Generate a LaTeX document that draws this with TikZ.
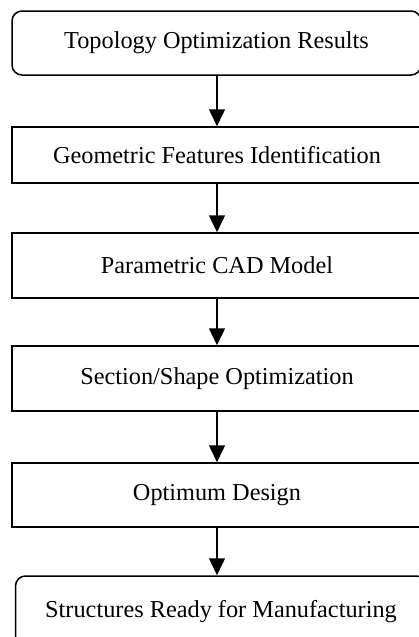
\documentclass[tikz,border=0pt]{standalone}
\usepackage{fontspec}
\setmainfont{Liberation Serif}
\usetikzlibrary{arrows.meta}
\begin{document}
\begin{tikzpicture}[x=1pt,y=-1pt,
  box/.style={draw, line width=1.5pt, minimum width=410pt, minimum height=64pt, inner sep=0pt, font=\fontsize{24.3}{28}\selectfont, anchor=center},
  rbox/.style={box, rounded corners=10pt},
  flow/.style={-{Triangle[width=16pt,length=17pt]}, line width=1.5pt}]
\useasboundingbox (0,0) rectangle (419,637);
\clip (0,0) rectangle (419,637);
\node[rbox, minimum width=409pt] (n1) at (216.5,43) {Topology Optimization Results};
\node[box, minimum height=56pt] (n2) at (217,155) {Geometric Features Identification};
\node[box, minimum height=65pt] (n3) at (217,265.5) {Parametric CAD Model};
\node[box, minimum height=65pt] (n4) at (217,378.5) {Section/Shape Optimization};
\node[box] (n5) at (217,495) {Optimum Design};
\node[rbox, minimum width=411pt, minimum height=72pt] (n6) at (221,612) {Structures Ready for Manufacturing};
\draw[flow] (n2.north |- n1.south) -- (n2.north);
\draw[flow] (n2.south) -- (n3.north);
\draw[flow] (n3.south) -- (n4.north);
\draw[flow] (n4.south) -- (n5.north);
\draw[flow] (n5.south) -- (n5.south |- n6.north);
\end{tikzpicture}
\end{document}
